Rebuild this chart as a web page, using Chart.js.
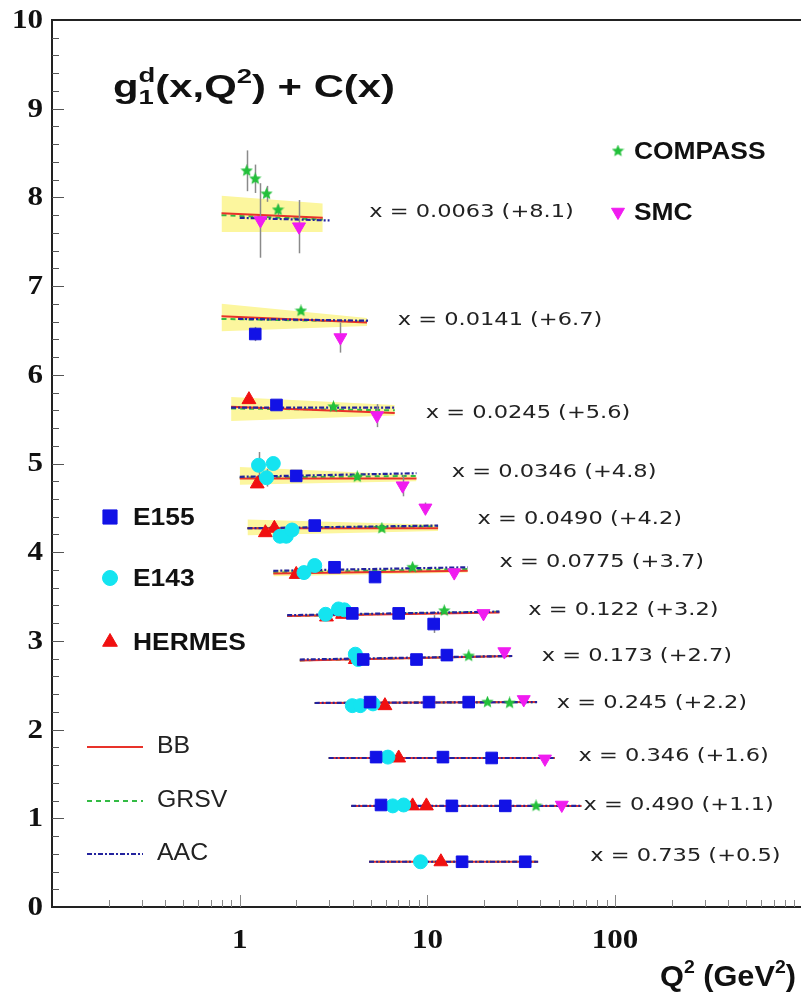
<!DOCTYPE html>
<html>
<head>
<meta charset="utf-8">
<script src="https://cdn.jsdelivr.net/npm/chart.js@4.4.1/dist/chart.umd.min.js"></script>
<style>
  html, body { margin: 0; padding: 0; background: #fff; overflow: hidden; }
  #wrap { width: 801px; height: 994px; overflow: hidden; }
  canvas { display: block; }
</style>
</head>
<body>
<div id="wrap"><canvas id="chart" width="812" height="994"></canvas></div>
<script>
// x bins, the constant C(x) added to each, and where the bin label sits (Q2, value)
const xBins = ['0.0063', '0.0141', '0.0245', '0.0346', '0.0490', '0.0775', '0.122', '0.173', '0.245', '0.346', '0.490', '0.735'];
const offsets = ['+8.1', '+6.7', '+5.6', '+4.8', '+4.2', '+3.7', '+3.2', '+2.7', '+2.2', '+1.6', '+1.1', '+0.5'];
const labelQ2 = [4.9, 6.95, 9.8, 13.5, 18.5, 24.2, 34.5, 40.7, 48.9, 63.9, 67.9, 73.8];
const labelVal = [7.83, 6.61, 5.57, 4.90, 4.37, 3.89, 3.34, 2.83, 2.30, 1.70, 1.15, 0.57];

// axis ticks
const yTickValues = [0, 1, 2, 3, 4, 5, 6, 7, 8, 9, 10];
const yTickLabels = ['0', '1', '2', '3', '4', '5', '6', '7', '8', '9', '10'];
const xTickValues = [1, 10, 100];
const xTickLabels = ['1', '10', '100'];

// fit curves: Q2 range and value at both ends of each bin
const fitQ2Lo = [0.80, 0.80, 0.90, 1.0, 1.10, 1.51, 1.79, 2.09, 2.51, 2.98, 3.93, 4.89];
const fitQ2Hi = [2.77, 4.77, 6.70, 8.75, 11.4, 16.4, 24.2, 28.3, 38.4, 47.7, 66.2, 38.9];
const bbLo = [7.82, 6.66, 5.64, 4.83, 4.27, 3.76, 3.28, 2.78, 2.30, 1.68, 1.14, 0.51];
const bbHi = [7.77, 6.59, 5.57, 4.83, 4.27, 3.79, 3.32, 2.83, 2.31, 1.68, 1.14, 0.51];
const grsvLo = [7.80, 6.63, 5.62, 4.84, 4.27, 3.77, 3.28, 2.78, 2.30, 1.68, 1.14, 0.51];
const grsvHi = [7.75, 6.60, 5.60, 4.86, 4.29, 3.81, 3.33, 2.83, 2.31, 1.68, 1.14, 0.51];
const aacQ2Lo = [1.0, 0.98, 0.90, 1.0, 1.10, 1.51, 1.79, 2.09, 2.51, 2.98, 3.93, 4.89];
const aacQ2Hi = [3.01, 4.89, 6.70, 8.75, 11.4, 16.4, 24.2, 28.3, 38.4, 47.7, 66.2, 38.9];
const aacLo = [7.77, 6.63, 5.63, 4.85, 4.27, 3.79, 3.29, 2.79, 2.30, 1.68, 1.14, 0.51];
const aacHi = [7.74, 6.61, 5.63, 4.89, 4.30, 3.83, 3.33, 2.83, 2.31, 1.68, 1.14, 0.51];

// BB uncertainty band (first six bins)
const bandUpLo = [8.02, 6.80, 5.75, 4.96, 4.37, 3.80];
const bandUpHi = [7.93, 6.64, 5.66, 4.87, 4.31, 3.82];
const bandDnLo = [7.61, 6.49, 5.48, 4.76, 4.19, 3.73];
const bandDnHi = [7.61, 6.55, 5.54, 4.80, 4.24, 3.77];

// measurements, g1 + C(x)
const e155Q2 = [1.21, 1.57, 2.0, 2.51, 3.20, 5.26, 3.98, 7.03, 10.8, 4.55, 8.75, 12.7, 4.95, 10.2, 16.6, 5.33, 12.1, 22.0, 5.66, 13.5, 26.0, 15.3, 33.2];
const e155G1 = [6.46, 5.66, 4.86, 4.30, 3.83, 3.72, 3.31, 3.31, 3.19, 2.79, 2.79, 2.84, 2.31, 2.31, 2.31, 1.69, 1.69, 1.68, 1.15, 1.14, 1.14, 0.51, 0.51];
const e155Err = [0.08, 0.03, 0.03, 0.03, 0.03, 0.04, 0.02, 0.03, 0.10, 0.02, 0.02, 0.03, 0.02, 0.02, 0.02, 0.02, 0.02, 0.02, 0.02, 0.02, 0.02, 0.02, 0.02];

const e143Q2 = [1.26, 1.51, 1.39, 1.64, 1.77, 1.90, 2.20, 2.51, 2.87, 3.36, 3.61, 4.13, 4.28, 3.98, 4.39, 5.13, 6.16, 6.54, 7.47, 9.19];
const e143G1 = [4.98, 5.00, 4.84, 4.18, 4.18, 4.25, 3.77, 3.85, 3.30, 3.36, 3.35, 2.85, 2.79, 2.27, 2.27, 2.29, 1.69, 1.14, 1.15, 0.51];
const e143Err = [0.15, 0.07, 0.10, 0.04, 0.03, 0.03, 0.03, 0.03, 0.02, 0.02, 0.02, 0.02, 0.02, 0.02, 0.02, 0.02, 0.02, 0.02, 0.02, 0.02];

const hermesQ2 = [1.12, 1.24, 1.37, 1.53, 2.0, 2.42, 2.90, 3.53, 4.13, 5.94, 7.03, 8.34, 9.88, 11.8];
const hermesG1 = [5.72, 4.77, 4.22, 4.27, 3.75, 3.83, 3.27, 3.30, 2.79, 2.27, 1.68, 1.14, 1.14, 0.51];
const hermesErr = [0.04, 0.04, 0.03, 0.03, 0.03, 0.03, 0.02, 0.02, 0.02, 0.02, 0.02, 0.02, 0.02, 0.02];

const compassQ2 = [1.09, 1.21, 1.39, 1.60, 2.12, 3.16, 4.23, 5.72, 8.34, 12.3, 16.6, 20.9, 27.4, 37.9];
const compassG1 = [8.30, 8.21, 8.04, 7.86, 6.72, 5.64, 4.85, 4.27, 3.83, 3.34, 2.83, 2.31, 2.30, 1.14];
const compassErr = [0.23, 0.16, 0.09, 0.06, 0.03, 0.02, 0.02, 0.02, 0.02, 0.02, 0.02, 0.02, 0.02, 0.02];

const smcQ2 = [1.29, 2.07, 3.44, 5.39, 7.38, 9.76, 13.9, 19.9, 25.7, 32.6, 42.3, 52.0];
const smcG1 = [7.74, 7.67, 6.42, 5.54, 4.75, 4.50, 3.77, 3.31, 2.88, 2.34, 1.67, 1.15];
const smcErr = [0.42, 0.30, 0.17, 0.13, 0.12, 0.06, 0.03, 0.03, 0.03, 0.03, 0.03, 0.03];

const SANS = '"Liberation Sans", Arial, sans-serif';
const SERIF = '"Liberation Serif", "Times New Roman", serif';
const BAND = 'rgb(252, 246, 158)';
const BB_COLOR = '#e8322a';
const GRSV_COLOR = '#33bb44';
const AAC_COLOR = '#23239e';
const AAC_DASH = [5, 2, 2, 2];

// small filled five-point star, used as a point style
function makeStar(size, color) {
  const c = document.createElement('canvas');
  c.width = c.height = size;
  const g = c.getContext('2d');
  const r = size / 2, ri = r * 0.45;
  g.beginPath();
  for (let k = 0; k < 10; k++) {
    const a = -Math.PI / 2 + k * Math.PI / 5;
    const rr = k % 2 ? ri : r;
    g.lineTo(r + rr * Math.cos(a), r + rr * Math.sin(a));
  }
  g.closePath();
  g.fillStyle = color;
  g.fill();
  return c;
}
const star = makeStar(13, '#22c03a');

const pts = (xs, ys) => xs.map((x, i) => ({ x: x, y: ys[i] }));
const seg = (x0, x1, y0, y1) => [{ x: x0, y: y0 }, { x: x1, y: y1 }];

const datasets = [];

// bands: upper edge filled down to the next (lower) dataset
bandUpLo.forEach((_, i) => {
  datasets.push({
    data: seg(fitQ2Lo[i], fitQ2Hi[i], bandUpLo[i], bandUpHi[i]),
    fill: '+1', backgroundColor: BAND, borderColor: 'rgba(0,0,0,0)', borderWidth: 0,
    pointRadius: 0, order: 10
  });
  datasets.push({
    data: seg(fitQ2Lo[i], fitQ2Hi[i], bandDnLo[i], bandDnHi[i]),
    fill: false, borderColor: 'rgba(0,0,0,0)', borderWidth: 0, pointRadius: 0, order: 10
  });
});

xBins.forEach((_, i) => {
  datasets.push({
    data: seg(fitQ2Lo[i], fitQ2Hi[i], grsvLo[i], grsvHi[i]),
    borderColor: GRSV_COLOR, borderWidth: 2, borderDash: [5, 4], pointRadius: 0, fill: false, order: 6
  });
  datasets.push({
    data: seg(fitQ2Lo[i], fitQ2Hi[i], bbLo[i], bbHi[i]),
    borderColor: BB_COLOR, borderWidth: 2, pointRadius: 0, fill: false, order: 5
  });
  datasets.push({
    data: seg(aacQ2Lo[i], aacQ2Hi[i], aacLo[i], aacHi[i]),
    borderColor: AAC_COLOR, borderWidth: 2.2, borderDash: AAC_DASH, pointRadius: 0, fill: false, order: 4
  });
});

function markers(label, xs, ys, errs, style, radius, color, rotation, order) {
  return {
    label: label, data: pts(xs, ys), errors: errs, showLine: false, fill: false,
    pointStyle: style, pointRadius: radius, pointRotation: rotation || 0,
    pointBackgroundColor: color, pointBorderColor: color, pointBorderWidth: 1,
    order: order
  };
}
datasets.push(markers('SMC', smcQ2, smcG1, smcErr, 'triangle', 7.5, '#f01cf0', 180, 3));
datasets.push(markers('COMPASS', compassQ2, compassG1, compassErr, star, 6, '#22c03a', 0, 3));
datasets.push(markers('HERMES', hermesQ2, hermesG1, hermesErr, 'triangle', 8, '#f01010', 0, 3));
datasets.push(markers('E143', e143Q2, e143G1, e143Err, 'circle', 7, '#14e4f0', 0, 2));
datasets.push(markers('E155', e155Q2, e155G1, e155Err, 'rect', 8.2, '#1212e6', 0, 1));

// text squeezed/stretched horizontally by sx
function stretchText(ctx, str, x, y, font, sx, align) {
  ctx.save();
  ctx.font = font;
  const w = ctx.measureText(str).width * sx;
  const x0 = align === 'right' ? x - w : align === 'center' ? x - w / 2 : x;
  ctx.translate(x0, y);
  ctx.scale(sx, 1);
  ctx.textAlign = 'left';
  ctx.fillText(str, 0, 0);
  ctx.restore();
}

// runs of [text, font, dy, stacked]; stacked runs share one x slot
function drawRuns(ctx, runs, x, y, targetWidth) {
  ctx.save();
  let total = 0, stackW = 0;
  runs.forEach(r => {
    ctx.font = r[1];
    const w = ctx.measureText(r[0]).width;
    if (r[3]) { stackW = Math.max(stackW, w); } else { total += stackW + w; stackW = 0; }
  });
  total += stackW;
  const sx = targetWidth / total;
  ctx.translate(x, y);
  ctx.scale(sx, 1);
  ctx.textAlign = 'left';
  ctx.textBaseline = 'alphabetic';
  let cx = 0; stackW = 0;
  runs.forEach(r => {
    ctx.font = r[1];
    const w = ctx.measureText(r[0]).width;
    if (r[3]) {
      ctx.fillText(r[0], cx, r[2]);
      stackW = Math.max(stackW, w);
    } else {
      cx += stackW; stackW = 0;
      ctx.fillText(r[0], cx, r[2]);
      cx += w;
    }
  });
  ctx.restore();
}

let errorsDrawn = false;
function drawErrorBars(chart) {
  const ctx = chart.ctx;
  const xs = chart.scales.x, ys = chart.scales.y;
  ctx.save();
  ctx.strokeStyle = '#8a8a8a';
  ctx.lineWidth = 1.5;
  chart.data.datasets.forEach(ds => {
    if (!ds.errors) return;
    ds.data.forEach((p, i) => {
      const e = ds.errors[i];
      const px = Math.round(xs.getPixelForValue(p.x)) + 0.5;
      ctx.beginPath();
      ctx.moveTo(px, ys.getPixelForValue(p.y - e));
      ctx.lineTo(px, ys.getPixelForValue(p.y + e));
      ctx.stroke();
    });
  });
  ctx.restore();
}

const decor = {
  id: 'decor',
  beforeDatasetsDraw() { errorsDrawn = false; },
  beforeDatasetDraw(chart, args) {
    if (!errorsDrawn && chart.data.datasets[args.index].errors) {
      drawErrorBars(chart);
      errorsDrawn = true;
    }
  },
  afterDraw(chart) {
    const ctx = chart.ctx;
    const ca = chart.chartArea;
    const xs = chart.scales.x, ys = chart.scales.y;
    const drawPoint = Chart.helpers.drawPoint;
    ctx.save();

    // frame
    ctx.strokeStyle = '#222';
    ctx.lineWidth = 2;
    ctx.beginPath();
    ctx.moveTo(ca.right, ca.top); ctx.lineTo(ca.left, ca.top);
    ctx.lineTo(ca.left, ca.bottom); ctx.lineTo(ca.right, ca.bottom);
    ctx.stroke();

    // inward ticks on the y axis, every 0.2
    ctx.strokeStyle = '#555';
    ctx.lineWidth = 1;
    for (let k = 1; k < 50; k++) {
      const py = Math.round(ys.getPixelForValue(k / 5)) + 0.5;
      const len = k % 5 === 0 ? 12 : 7;
      ctx.beginPath(); ctx.moveTo(ca.left, py); ctx.lineTo(ca.left + len, py); ctx.stroke();
    }
    // inward ticks on the log x axis
    ctx.strokeStyle = '#888';
    for (let d = -1; d < 3; d++) {
      for (let m = 1; m < 10; m++) {
        if (d === -1 && m === 1) continue;
        const px = Math.round(xs.getPixelForValue(m * Math.pow(10, d))) + 0.5;
        const len = m === 1 ? 12 : 7;
        ctx.beginPath(); ctx.moveTo(px, ca.bottom); ctx.lineTo(px, ca.bottom - len); ctx.stroke();
      }
    }

    // tick labels
    ctx.fillStyle = '#111';
    ctx.textBaseline = 'middle';
    yTickValues.forEach((v, i) => {
      stretchText(ctx, yTickLabels[i], ca.left - 9, ys.getPixelForValue(v) + 1, 'bold 27px ' + SERIF, 1.15, 'right');
    });
    xTickValues.forEach((v, i) => {
      stretchText(ctx, xTickLabels[i], xs.getPixelForValue(v), 941, 'bold 27px ' + SERIF, 1.15, 'center');
    });

    // bin labels
    ctx.fillStyle = '#222';
    xBins.forEach((x, i) => {
      stretchText(ctx, 'x = ' + x + ' (' + offsets[i] + ')', xs.getPixelForValue(labelQ2[i]),
        ys.getPixelForValue(labelVal[i]), '18px "DejaVu Sans", sans-serif', 1.25, 'left');
    });

    // titles
    ctx.fillStyle = '#111';
    const big = 'bold 32px ' + SANS, small = 'bold 21px ' + SANS;
    drawRuns(ctx, [
      ['g', big, 0], ['d', small, -15, true], ['1', small, 7, true],
      ['(x,Q', big, 0], ['2', small, -14, true], [') + C(x)', big, 0]
    ], 113, 97, 282);
    const ab = 'bold 30px ' + SANS, as = 'bold 19px ' + SANS;
    drawRuns(ctx, [
      ['Q', ab, 0], ['2', as, -13, true], [' (GeV', ab, 0], ['2', as, -13, true], [')', ab, 0]
    ], 660, 986, 136);

    // legend: experiments [label, marker x, y, style, radius, colour, rotation, text x]
    const expLegend = [
      ['E155', 110, 517, 'rect', 10, '#1212e6', 0, 133],
      ['E143', 110, 578, 'circle', 7.5, '#14e4f0', 0, 133],
      ['HERMES', 110, 642, 'triangle', 8.5, '#f01010', 0, 133],
      ['COMPASS', 618, 151, star, 6, '#22c03a', 0, 634],
      ['SMC', 618, 212, 'triangle', 7.5, '#f01cf0', 180, 634]
    ];
    expLegend.forEach(e => {
      ctx.fillStyle = e[5]; ctx.strokeStyle = e[5];
      drawPoint(ctx, { pointStyle: e[3], radius: e[4], rotation: e[6], borderWidth: 1 }, e[1], e[2]);
      ctx.fillStyle = '#111';
      ctx.textBaseline = 'middle';
      stretchText(ctx, e[0], e[7], e[2] + 1, 'bold 24px ' + SANS, 1.1, 'left');
    });

    // legend: fits
    const fitLegend = [
      ['BB', 747, BB_COLOR, []],
      ['GRSV', 801, GRSV_COLOR, [5, 4]],
      ['AAC', 854, AAC_COLOR, AAC_DASH]
    ];
    fitLegend.forEach(f => {
      ctx.strokeStyle = f[2]; ctx.lineWidth = 2; ctx.setLineDash(f[3]);
      ctx.beginPath(); ctx.moveTo(87, f[1]); ctx.lineTo(143, f[1]); ctx.stroke();
      ctx.setLineDash([]);
      ctx.fillStyle = '#222';
      ctx.textBaseline = 'middle';
      stretchText(ctx, f[0], 157, f[1], '23px ' + SANS, 1.08, 'left');
    });

    ctx.restore();
  }
};

new Chart(document.getElementById('chart'), {
  type: 'line',
  data: { datasets: datasets },
  options: {
    responsive: false,
    animation: false,
    devicePixelRatio: 1,
    events: [],
    layout: { padding: { left: 52, top: 20, right: 0, bottom: 87 } },
    elements: { line: { tension: 0 } },
    plugins: { legend: { display: false }, tooltip: { enabled: false } },
    scales: {
      x: { type: 'logarithmic', min: 0.1, max: 1000, display: false },
      y: { type: 'linear', min: 0, max: 10, display: false }
    }
  },
  plugins: [decor]
});
</script>
</body>
</html>
